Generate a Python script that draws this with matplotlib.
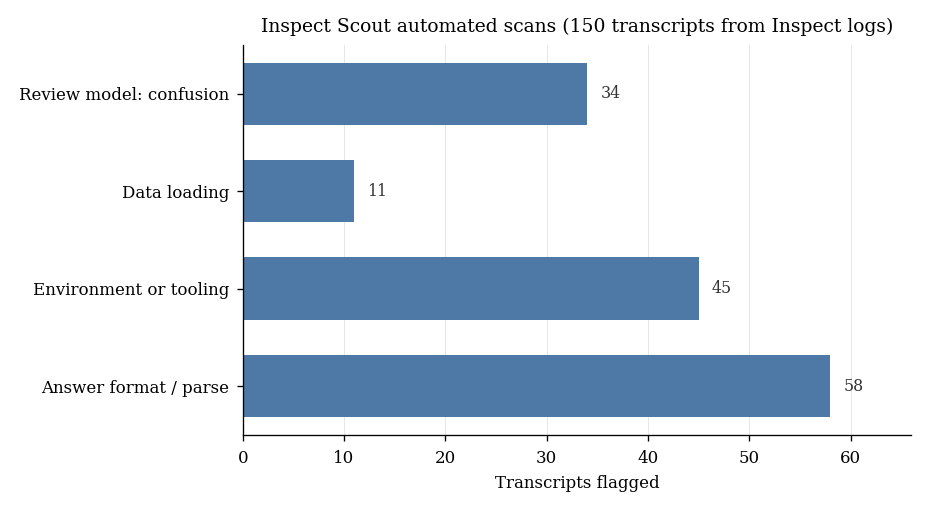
import matplotlib.pyplot as plt

categories = ["Answer format / parse", "Environment or tooling", "Data loading", "Review model: confusion"]
counts = [58, 45, 11, 34]

plt.rcParams['font.family'] = ['DejaVu Serif']

fig, ax = plt.subplots(figsize=(7.75, 4.25), dpi=120)
ax.barh(categories, counts, height=0.64, color="#4e79a7", zorder=2)

# value labels
for i, v in enumerate(counts):
    ax.text(v + 1.3, i, str(v), va="center", ha="left", fontsize=9.5, color="#333333")

ax.set_xlim(0, 66)
ax.grid(axis="x", color="#e6e6e6", linewidth=0.6, zorder=0)
ax.set_axisbelow(True)
ax.spines["top"].set_visible(False)
ax.spines["right"].set_visible(False)
ax.tick_params(labelsize=10)
ax.tick_params(axis="x", pad=5.5)
ax.tick_params(axis="y", pad=4.5)
ax.set_xlabel("Transcripts flagged", fontsize=10, labelpad=5)
ax.set_title("Inspect Scout automated scans (150 transcripts from Inspect logs)", fontsize=11.25, pad=8)

plt.subplots_adjust(left=0.261, right=0.98, top=0.912, bottom=0.147)
plt.savefig("out.png")
